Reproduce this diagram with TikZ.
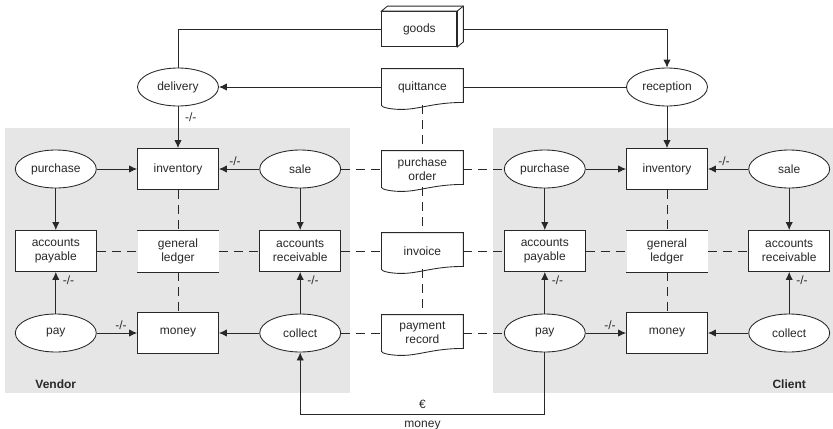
\documentclass[tikz,border=0pt]{standalone}
\usepackage{fontspec}
\setmainfont{Liberation Sans}
\definecolor{pane}{RGB}{230, 230, 230}
\definecolor{ink}{RGB}{40, 40, 40}
\usetikzlibrary{positioning, shapes.geometric, calc, arrows.meta}

\begin{document}
\begin{tikzpicture}[x=0.75pt, y=-0.75pt, color=ink, line width=0.65pt,
		font=\fontsize{9}{10.5}\selectfont,
		node distance=61.5pt and 91.65pt, on grid,
		proc/.style={draw, ellipse, fill=white, minimum width=60.75pt, minimum height=28.5pt, inner sep=0pt},
		acct/.style={draw, fill=white, minimum width=60.75pt, minimum height=30.75pt, align=center, inner sep=1pt},
		ledger/.style={fill=white, minimum width=60.75pt, minimum height=30.75pt, align=center, inner sep=1pt},
		doc/.style={minimum width=60.75pt, minimum height=27pt, align=center, inner sep=1pt},
		goodsbox/.style={draw, fill=white, minimum width=56.25pt, minimum height=26.25pt},
		party/.style={font=\fontsize{9}{10.5}\selectfont\bfseries},
		cut/.style={font=\fontsize{9}{10}\selectfont, inner sep=1pt},
		arr/.style={-{Latex[length=6pt, width=5.5pt]}},
		link/.style={dash pattern=on 6.75pt off 4.5pt}
		]
		\useasboundingbox (0,0) rectangle (833,429);
		
		\fill[pane] (5,128) rectangle (350,393);
		\fill[pane] (493,128) rectangle (833,393);
		
		\foreach \s/\x/\foot/\who in {v/178/pay/Vendor, c/667/col/Client}{
			\node[acct] (\s-inv) at (\x,169) {inventory};
			\node[proc, left=of \s-inv] (\s-pur) {purchase};
			\node[proc, right=of \s-inv] (\s-sale) {sale};
			\node[ledger, below=of \s-inv] (\s-gl) {general\\ledger};
			\node[acct, below=of \s-pur] (\s-ap) {accounts\\payable};
			\node[acct, below=of \s-sale] (\s-ar) {accounts\\receivable};
			\node[acct, below=of \s-gl] (\s-mon) {money};
			\node[proc, below=of \s-ap] (\s-pay) {pay};
			\node[proc, below=of \s-ar] (\s-col) {collect};
			\node[party, below=38.25pt of \s-\foot] (\s-party) {\who};
			
			\draw (\s-gl.north west)--(\s-gl.north east) (\s-gl.south west)--(\s-gl.south east);
			\draw[arr] (\s-pur)--(\s-inv);
			\draw[arr] (\s-sale)--(\s-inv) node[cut, pos=.6, above=1pt]{-/-};
			\draw[arr] (\s-pur)--(\s-ap);
			\draw[arr] (\s-sale)--(\s-ar);
			\draw[arr] (\s-pay)--(\s-ap) node[cut, pos=.8, right=4pt]{-/-};
			\draw[arr] (\s-pay)--(\s-mon) node[cut, pos=.6, above=1pt]{-/-};
			\draw[arr] (\s-col)--(\s-mon);
			\draw[arr] (\s-col)--(\s-ar) node[cut, pos=.8, right=4pt]{-/-};
			\draw[link] (\s-inv)--(\s-gl)--(\s-mon);
			\draw[link] (\s-ap)--(\s-gl)--(\s-ar);
		}
		
		\node[doc, right=of v-sale] (po) {purchase\\order};
		\node[doc, above=of po] (quit) {quittance};
		\node[doc, below=of po] (inv) {invoice};
		\node[doc, below=of inv] (prec) {payment\\record};
		\foreach \d in {quit,po,inv,prec}{
			\draw (\d.north west)--(\d.north east)--($(\d.south east)+(0,-3)$)
			.. controls +(-30,0) and +(18,0) .. ($(\d.south west)+(20,4)$)
			.. controls +(-10,0) and +(0,2) .. (\d.south west)--cycle;
		}
		
		\node[goodsbox, above=43.5pt of quit, xshift=-2.25pt] (goods) {goods};
		\node[proc, above=of v-inv] (deliv) {delivery};
		\node[proc, above=of c-inv] (recep) {reception};
		
		\draw (goods) -| (deliv);
		\draw[arr] (goods) -| (recep);
		\draw[arr] (quit)--(deliv);
		\draw (quit)--(recep);
		\draw[arr] (deliv)--(v-inv) node[cut, pos=.25, right=4pt]{-/-};
		\draw[arr] (recep)--(c-inv);
		\draw[fill=white] (goods.north west)--++(6,-5)--($(goods.north east)+(6,-5)$)
		--($(goods.south east)+(6,-5)$)--(goods.south east)--(goods.north east)--cycle;
		\draw (goods.north east)--++(6,-5);
		
		\draw[link] (v-sale)--(po)--(c-pur);
		\draw[link] (v-ar)--(inv)--(c-ap);
		\draw[link] (v-col)--(prec)--(c-pay);
		\draw[link] (quit)--(po)--(inv)--(prec);
		
		\draw[arr] (c-pay.south)--++(0,62) -| (v-col.south)
		node[pos=.25, above=1pt]{€} node[pos=.25, below=1pt]{money};
	\end{tikzpicture}
\end{document}
